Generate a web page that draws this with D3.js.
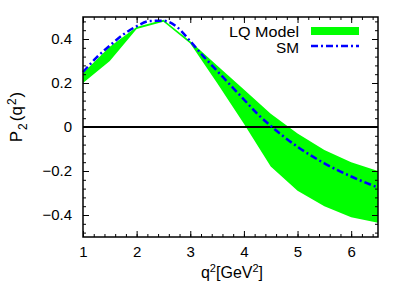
<!DOCTYPE html>
<html>
<head>
<meta charset="utf-8">
<script src="https://cdn.jsdelivr.net/npm/d3@7"></script>
<style>
  body { margin: 0; background: #fff; }
  text { font-family: "Liberation Sans", Arial, sans-serif; fill: #000; }
</style>
</head>
<body>
<div id="chart"></div>
<script>
// LQ model band
const bandQ2 = [1, 1.5, 2, 2.5, 3, 3.5, 4, 4.5, 5, 5.5, 6, 6.5];
const bandLow = [0.20, 0.30, 0.445, 0.478, 0.38, 0.20, 0.015, -0.18, -0.29, -0.36, -0.41, -0.435];
const bandHigh = [0.245, 0.365, 0.455, 0.487, 0.39, 0.28, 0.17, 0.06, -0.03, -0.105, -0.16, -0.20];

// SM curve
const smQ2 = [1, 1.25, 1.5, 1.75, 2, 2.25, 2.5, 2.75, 3, 3.25, 3.5, 3.75, 4, 4.25, 4.5, 4.75, 5, 5.5, 6, 6.5];
const smP2 = [0.25, 0.315, 0.37, 0.42, 0.458, 0.482, 0.483, 0.455, 0.39, 0.32, 0.255, 0.19, 0.125, 0.06, 0.005, -0.045, -0.09, -0.165, -0.225, -0.275];

const xTicks = [1, 2, 3, 4, 5, 6];
const yTicks = [-0.4, -0.2, 0, 0.2, 0.4];

const svgWidth = 409;
const svgHeight = 300;
const margin = { top: 17, right: 31, bottom: 63, left: 83 };

const svg = d3.select("#chart")
  .append("svg")
  .attr("width", svgWidth)
  .attr("height", svgHeight);

const x = d3.scaleLinear().domain([1, 6.5]).range([margin.left, svgWidth - margin.right]);
const y = d3.scaleLinear().domain([-0.5, 0.5]).range([svgHeight - margin.bottom, margin.top]);

// band
const band = bandQ2.map((q, i) => ({ q: q, lo: bandLow[i], hi: bandHigh[i] }));
svg.append("path")
  .datum(band)
  .attr("fill", "#00ff00")
  .attr("d", d3.area().x(d => x(d.q)).y0(d => y(d.lo)).y1(d => y(d.hi)));

// zero line
svg.append("line")
  .attr("x1", x(1)).attr("x2", x(6.5))
  .attr("y1", y(0)).attr("y2", y(0))
  .attr("stroke", "#000").attr("stroke-width", 2);

// SM line
const sm = smQ2.map((q, i) => ({ q: q, v: smP2[i] }));
svg.append("path")
  .datum(sm)
  .attr("fill", "none")
  .attr("stroke", "#0000ff")
  .attr("stroke-width", 2.5)
  .attr("stroke-dasharray", "7,3,2,3")
  .attr("d", d3.line().x(d => x(d.q)).y(d => y(d.v)).curve(d3.curveMonotoneX));

// axes, ticks inward on every side
const x0 = x.range()[0], x1 = x.range()[1];
const y0 = y.range()[0], y1 = y.range()[1];

svg.append("g")
  .attr("transform", `translate(0,${y0})`)
  .call(d3.axisBottom(x).tickValues(d3.range(1, 6.51, 0.2)).tickSize(-3).tickFormat(""))
  .call(g => g.select(".domain").remove());
svg.append("g")
  .attr("transform", `translate(0,${y0})`)
  .call(d3.axisBottom(x).tickValues(xTicks).tickSize(-6).tickPadding(9).tickFormat(d3.format("d")))
  .call(g => g.select(".domain").remove())
  .selectAll("text").style("font-size", "15px");

svg.append("g")
  .attr("transform", `translate(0,${y1})`)
  .call(d3.axisTop(x).tickValues(d3.range(1, 6.51, 0.2)).tickSize(-3).tickFormat(""))
  .call(g => g.select(".domain").remove());
svg.append("g")
  .attr("transform", `translate(0,${y1})`)
  .call(d3.axisTop(x).tickValues(xTicks).tickSize(-6).tickFormat(""))
  .call(g => g.select(".domain").remove());

const yMinor = d3.range(-0.48, 0.5, 0.04).map(v => Math.round(v * 100) / 100);
svg.append("g")
  .attr("transform", `translate(${x0},0)`)
  .call(d3.axisLeft(y).tickValues(yMinor).tickSize(-3).tickFormat(""))
  .call(g => g.select(".domain").remove());
svg.append("g")
  .attr("transform", `translate(${x0},0)`)
  .call(d3.axisLeft(y).tickValues(yTicks).tickSize(-6).tickPadding(11).tickFormat(d => d === 0 ? "0" : d3.format(".1f")(d)))
  .call(g => g.select(".domain").remove())
  .selectAll("text").style("font-size", "15px");

svg.append("g")
  .attr("transform", `translate(${x1},0)`)
  .call(d3.axisRight(y).tickValues(yMinor).tickSize(-3).tickFormat(""))
  .call(g => g.select(".domain").remove());
svg.append("g")
  .attr("transform", `translate(${x1},0)`)
  .call(d3.axisRight(y).tickValues(yTicks).tickSize(-6).tickFormat(""))
  .call(g => g.select(".domain").remove());

svg.selectAll(".tick line").attr("stroke", "#000").attr("stroke-width", 1);

// frame
svg.append("rect")
  .attr("x", x0).attr("y", y1)
  .attr("width", x1 - x0).attr("height", y0 - y1)
  .attr("fill", "none").attr("stroke", "#000").attr("stroke-width", 1.5);

// legend
svg.append("text")
  .attr("x", 229).attr("y", 36.5)
  .attr("textLength", 70)
  .attr("lengthAdjust", "spacingAndGlyphs")
  .style("font-size", "14px")
  .text("LQ Model");
svg.append("rect")
  .attr("x", 311).attr("y", 27).attr("width", 48).attr("height", 8)
  .attr("fill", "#00ff00");
svg.append("text")
  .attr("x", 276).attr("y", 52.5)
  .attr("textLength", 23)
  .attr("lengthAdjust", "spacingAndGlyphs")
  .style("font-size", "14px")
  .text("SM");
svg.append("line")
  .attr("x1", 311).attr("x2", 359).attr("y1", 46).attr("y2", 46)
  .attr("stroke", "#0000ff").attr("stroke-width", 2.5)
  .attr("stroke-dasharray", "7,3,2,3");

// axis titles
const xt = svg.append("text")
  .attr("x", 232).attr("y", 278)
  .attr("text-anchor", "middle")
  .style("font-size", "16px");
xt.append("tspan").text("q");
xt.append("tspan").attr("dy", -6).style("font-size", "11px").text("2");
xt.append("tspan").attr("dy", 6).text("[GeV");
xt.append("tspan").attr("dy", -6).style("font-size", "11px").text("2");
xt.append("tspan").attr("dy", 6).text("]");

const yt = svg.append("text")
  .attr("transform", "translate(22,117) rotate(-90)")
  .attr("text-anchor", "middle")
  .style("font-size", "17px");
yt.append("tspan").text("P");
yt.append("tspan").attr("dy", 5).attr("dx", 1).style("font-size", "12px").text("2");
yt.append("tspan").attr("dy", -5).attr("dx", 2).text("(q");
yt.append("tspan").attr("dy", -6).attr("dx", 1).style("font-size", "12px").text("2");
yt.append("tspan").attr("dy", 6).attr("dx", 1).text(")");
</script>
</body>
</html>
